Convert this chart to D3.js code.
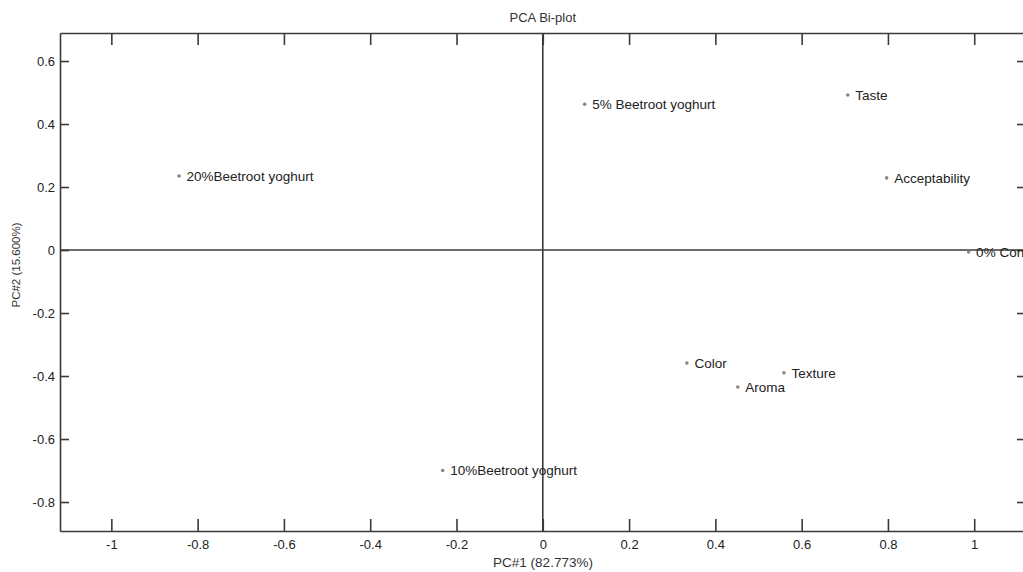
<!DOCTYPE html>
<html>
<head>
<meta charset="utf-8">
<script src="https://cdn.jsdelivr.net/npm/d3@7"></script>
<style>
  body { margin: 0; background: #fff; overflow: hidden; }
  svg { display: block; font-family: "Liberation Sans", Arial, sans-serif; }
</style>
</head>
<body>
<div id="chart"></div>
<script>
// scores / loadings
var labels = ["20%Beetroot yoghurt", "5% Beetroot yoghurt", "Taste", "Acceptability",
              "0% Control", "Color", "Aroma", "Texture", "10%Beetroot yoghurt"]
var pc1 = [-0.843, 0.097, 0.707, 0.797, 0.987, 0.334, 0.452, 0.559, -0.232]
var pc2 = [0.235, 0.463, 0.492, 0.229, -0.006, -0.359, -0.435, -0.39, -0.70]

var xTicks = [-1, -0.8, -0.6, -0.4, -0.2, 0, 0.2, 0.4, 0.6, 0.8, 1]
var yTicks = [-0.8, -0.6, -0.4, -0.2, 0, 0.2, 0.4, 0.6]

var W = 1023, H = 572
// plot box edges (right one falls just outside the picture)
var pLeft = 60, pTop = 33, pRight = 1026, pBottom = 531

var svg = d3.select("#chart").append("svg")
    .attr("width", W)
    .attr("height", H)

var x = d3.scaleLinear().domain([-1.119, 1.12]).range([pLeft, pRight])
var y = d3.scaleLinear().domain([-0.892, 0.689]).range([pBottom, pTop])

var axisColor = "#3a3a3a"

// zero lines
svg.append("line")
    .attr("x1", pLeft).attr("x2", pRight)
    .attr("y1", y(0)).attr("y2", y(0))
    .attr("stroke", axisColor).attr("stroke-width", 1.6)
svg.append("line")
    .attr("x1", x(0)).attr("x2", x(0))
    .attr("y1", pTop).attr("y2", pBottom)
    .attr("stroke", axisColor).attr("stroke-width", 1.6)

// box axes, ticks pointing inward (matlab style)
function styleAxis(g) {
    g.select(".domain").attr("stroke", axisColor).attr("stroke-width", 1.6)
    g.selectAll(".tick line").attr("stroke", axisColor).attr("stroke-width", 1.6)
    g.selectAll(".tick text").attr("fill", "#222").attr("font-size", "13px")
        .attr("font-family", "Liberation Sans, Arial, sans-serif")
}

// plain hyphen minus like the original
var fmt = function (d) { return String(+d.toFixed(1)) }

svg.append("g")
    .attr("transform", "translate(0," + pBottom + ")")
    .call(d3.axisBottom(x).tickValues(xTicks).tickFormat(fmt).tickSizeInner(-12).tickSizeOuter(0).tickPadding(9))
    .call(styleAxis)

svg.append("g")
    .attr("transform", "translate(0," + pTop + ")")
    .call(d3.axisTop(x).tickValues(xTicks).tickFormat("").tickSizeInner(-12).tickSizeOuter(0))
    .call(styleAxis)

svg.append("g")
    .attr("transform", "translate(" + pLeft + ",0)")
    .call(d3.axisLeft(y).tickValues(yTicks).tickFormat(fmt).tickSizeInner(-9).tickSizeOuter(0).tickPadding(5))
    .call(styleAxis)

svg.append("g")
    .attr("transform", "translate(" + pRight + ",0)")
    .call(d3.axisRight(y).tickValues(yTicks).tickFormat("").tickSizeInner(-9).tickSizeOuter(0))
    .call(styleAxis)

// points + labels
var pts = labels.map(function (d, i) { return { name: d, a: pc1[i], b: pc2[i] } })

var g = svg.selectAll("g.pt")
    .data(pts)
    .enter()
    .append("g")
    .attr("class", "pt")
    .attr("transform", function (d) { return "translate(" + x(d.a) + "," + y(d.b) + ")" })

g.append("circle")
    .attr("r", 1.8)
    .attr("fill", "#888")

g.append("text")
    .attr("x", 7.5)
    .attr("dy", "0.35em")
    .attr("font-size", "13.5px")
    .attr("fill", "#222")
    .text(function (d) { return d.name })

// titles
svg.append("text")
    .attr("x", x(0)).attr("y", 22)
    .attr("text-anchor", "middle")
    .attr("font-size", "13px")
    .attr("fill", "#333")
    .text("PCA Bi-plot")

svg.append("text")
    .attr("x", (pLeft + pRight) / 2).attr("y", 567)
    .attr("text-anchor", "middle")
    .attr("font-size", "13.5px")
    .attr("fill", "#333")
    .text("PC#1 (82.773%)")

svg.append("text")
    .attr("transform", "translate(20,265) rotate(-90)")
    .attr("text-anchor", "middle")
    .attr("font-size", "11.5px")
    .attr("fill", "#333")
    .text("PC#2 (15.600%)")
</script>
</body>
</html>
